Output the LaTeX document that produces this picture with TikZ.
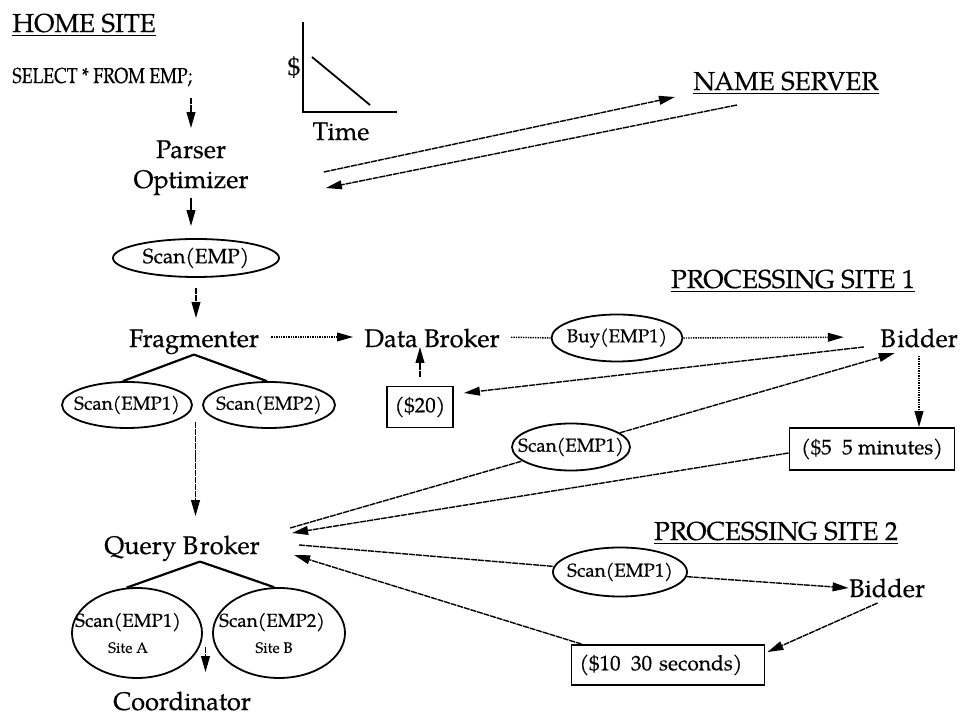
\documentclass[tikz,border=0pt]{standalone}
\usepackage{fontspec}
\setmainfont{TeX Gyre Pagella}[UprightFeatures={FakeBold=0.35}]
\newfontfamily\condfont{TeX Gyre Pagella}[FakeStretch=0.82,FakeBold=0.35]
\usetikzlibrary{arrows.meta,shapes.geometric,calc}
\newcommand\FBig{\fontsize{12.7pt}{15pt}\selectfont}
\newcommand\FTitle{\fontsize{13pt}{15pt}\selectfont}
\newcommand\FSel{\condfont\fontsize{10.8pt}{12pt}\selectfont}
\newcommand\FEll{\fontsize{9.4pt}{11pt}\selectfont}
\newcommand\FEllBig{\fontsize{10.4pt}{12pt}\selectfont}
\newcommand\FBox{\fontsize{10.5pt}{12pt}\selectfont}
\newcommand\FSite{\fontsize{7.5pt}{9pt}\selectfont}
\tikzset{
 txt/.style={inner sep=0pt, font=\FBig, anchor=base},
 ttl/.style={inner sep=0pt, font=\FTitle},
 ell/.style={ellipse, draw, line width=0.9pt, inner sep=0pt, font=\FEll},
 pbox/.style={rectangle, draw, line width=0.9pt, inner sep=0pt, font=\FBox},
 conn/.style={line width=0.7pt, dash pattern=on 3pt off 0.45pt, -{Triangle[length=8pt,width=4.4pt]}},
 cline/.style={line width=0.7pt, dash pattern=on 3pt off 0.45pt},
 dconn/.style={line width=0.7pt, dash pattern=on 0.7pt off 0.5pt, -{Triangle[length=8pt,width=4.4pt]}},
 dline/.style={line width=0.7pt, dash pattern=on 0.7pt off 0.5pt},
 treeline/.style={line width=1.1pt},
 axis/.style={line width=0.9pt}
}
\begin{document}
\begin{tikzpicture}[x=0.5pt, y=-0.5pt]
\fill[white] (0,0) rectangle (960,715);
\useasboundingbox (0,0) rectangle (960,715);

% ---- nodes ----
\node[ttl, anchor=base west] (home) at (12,32) {\underline{HOME SITE}};
\node[inner sep=0pt, font=\FSel, anchor=base west] (select) at (12,83) {SELECT * FROM EMP;};
\node[txt] (parser) at (191,158) {Parser};
\node[txt] (opt) at (191,188) {Optimizer};
\node[ell, font=\FEllBig, minimum width=83pt, minimum height=19pt] (scanemp) at (196,258) {\makebox[0pt]{Scan(EMP)}};
\node[txt] (frag) at (194,347) {Fragmenter};
\node[ell, minimum width=65pt, minimum height=23pt] (f1) at (127,405) {\makebox[0pt]{Scan(EMP1)}};
\node[ell, minimum width=66pt, minimum height=23pt] (f2) at (269,405) {\makebox[0pt]{Scan(EMP2)}};
\node[txt] (db) at (432,347) {Data Broker};
\node[ell, minimum width=65.5pt, minimum height=23.5pt] (buy) at (617,338) {\makebox[0pt]{Buy(EMP1)}};
\node[txt] (b1) at (919,347) {B\kern0.8pt idder};
\node[ttl, anchor=base] (ps1) at (793,288) {\underline{PROCESSING SITE 1}};
\node[ttl, anchor=base] (ns) at (786,90) {\underline{NAME SERVER}};
\node[pbox, minimum width=33pt, minimum height=20.5pt] (b20) at (420,407) {(\$20)};
\node[pbox, minimum width=82.5pt, minimum height=21pt] (b5) at (872,449) {(\$5\hspace{0.5em}5 minutes)};
\node[ell, minimum width=59pt, minimum height=23.5pt] (mscan) at (571,447) {\makebox[0pt]{Scan(EMP1)}};
\node[txt] (qb) at (182,554) {Query B\kern0.8pt roker};
\node[ttl, anchor=base] (ps2) at (776,540) {\underline{PROCESSING SITE 2}};
\node[ell, minimum width=67pt, minimum height=24.5pt] (s2scan) at (620,572) {\makebox[0pt]{Scan(EMP1)}};
\node[txt] (b2) at (887,597) {Bidder};
\node[pbox, inner xsep=4pt, text width=88.5pt, align=left, minimum height=20pt] (b10) at (668,665) {(\$10\hspace{0.5em}30 seconds)};
\node[ell, minimum width=65pt, minimum height=45pt, align=center] (sa) at (137,633)
  {\makebox[0pt]{Scan(EMP1)\hspace*{9pt}}\\[2pt]\makebox[0pt]{\FSite Site A\hspace*{9pt}}};
\node[ell, minimum width=66pt, minimum height=45pt, align=center] (sb) at (279,633)
  {\makebox[0pt]{Scan(EMP2)\hspace*{7pt}}\\[2pt]\makebox[0pt]{\FSite Site B\hspace*{5pt}}};
\node[txt] (coord) at (182,710) {Coordinator};

% ---- small price/time chart ----
\node[txt] (dollar) at (294,75) {\$};
\node[txt] (time) at (341,140) {Time};
\draw[axis] (303,22) -- (303,112) -- (397,112);
\draw[axis] (312,57) -- (370,105);

% ---- connectors ----
\draw[conn, shorten <=5.5pt, shorten >=6pt] (parser.north |- select.south) -- (parser.north);
\draw[conn, shorten <=1pt, shorten >=6pt] (opt.south) -- (opt.south |- scanemp.north);
\draw[conn, shorten <=5pt, shorten >=5.5pt] (scanemp.south) -- (scanemp.south |- frag.north);
\draw[dconn, shorten <=6pt, shorten >=5.5pt] ([yshift=5pt]frag.base east) -- ([yshift=5pt]db.base west);
\draw[dline, shorten <=5.5pt] ([yshift=5pt]db.base east) -- (buy.west);
\draw[dconn, shorten >=18pt] (buy.east) -- ([yshift=5pt]b1.base west);
\draw[conn] ($(b1.base west)+(-16,0)$) -- ($(b20.east)+(10,-14)$);
\draw[conn, shorten <=4.5pt] (b20.north) -- (b20.north |- db.base);
\draw[cline] ($(qb.base east)+(30,-26)$) -- (mscan);
\draw[conn] (mscan) -- ($(b1.base west)+(15,6)$);
\draw[conn] ($(b5.west)+(0,4)$) -- ($(qb.base east)+(32,-21)$);
\draw[cline] ($(qb.base east)+(39,-9)$) -- (s2scan);
\draw[conn] (s2scan) -- ($(b2.base west)+(0,-9)$);
\draw[conn] ($(b10.north west)+(11,0)$) -- ($(qb.base east)+(34,1)$);
\draw[conn] ($(b2.base west)+(29,6)$) -- ($(b10.north east)+(2,8)$);
\draw[dconn, shorten <=4pt] (b1.south) -- (b1.south |- b5.north);
\draw[conn] ($(opt.base east)+(75,-16)$) -- ($(ns.base west)+(-18,7)$);
\draw[conn] ($(ns.base west)+(44,15)$) -- ($(opt.base east)+(77,0)$);

% trees
\draw[treeline] (frag.south) -- (f1.100);
\draw[treeline] (frag.south) -- (f2.95);
\path ($(f1.east)!.5!(f2.west)+(-2,17)$) coordinate (fq);
\draw[conn, shorten >=9.5pt] (fq) -- (fq |- qb.north);
\draw[treeline] ([xshift=9pt]qb.south) -- (sa.103);
\draw[treeline] ([xshift=9pt]qb.south) -- (sb.96);
\path ($(sa.east)!.5!(sb.west)+(-2,14)$) coordinate (sc);
\draw[conn, shorten >=9.5pt] (sc) -- (sc |- coord.north);
\end{tikzpicture}
\end{document}
